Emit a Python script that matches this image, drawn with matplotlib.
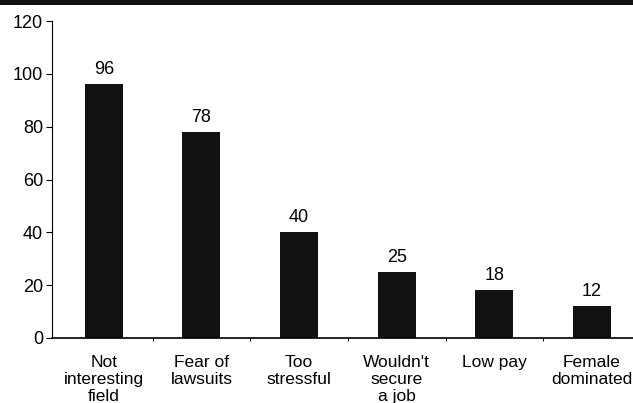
import matplotlib.pyplot as plt
from matplotlib.patches import Rectangle
import numpy as np

plt.rcParams['font.family'] = ['Liberation Sans', 'DejaVu Sans']

reasons = ["Not\ninteresting\nfield", "Fear of\nlawsuits", "Too\nstressful",
           "Wouldn't\nsecure\na job", "Low pay", "Female\ndominated"]
counts = [96, 78, 40, 25, 18, 12]
y_ticks = [0, 20, 40, 60, 80, 100, 120]

fig = plt.figure(figsize=(6.33, 4.03), dpi=100)
ax = fig.add_axes([52 / 633, 65 / 403, 1 - 52 / 633, 317 / 403])

# black rule across the top of the page
fig.patches.append(Rectangle((0, 1 - 5 / 403), 1, 5 / 403, transform=fig.transFigure,
                             facecolor='#111111', edgecolor='none'))

x = np.arange(len(counts))
bars = ax.bar(x, counts, width=0.39, color='#111111')

for xi, c in zip(x, counts):
    ax.annotate(str(c), (xi, c), xytext=(0, 4.5), textcoords='offset points',
                ha='center', va='bottom', fontsize=13)

ax.set_xlim(-0.53, 5.42)
ax.set_ylim(0, 120)
ax.set_yticks(y_ticks)
ax.tick_params(axis='y', direction='out', length=4, width=0.8, pad=2.5, labelsize=13)

ax.set_xticks(x)
ax.set_xticklabels(reasons, fontsize=12.5, linespacing=1.15)
ax.tick_params(axis='x', which='major', length=0, pad=12.5)
ax.set_xticks(x[:-1] + 0.5, minor=True)
ax.tick_params(axis='x', which='minor', direction='out', length=2, width=0.7)

for side in ['top', 'right']:
    ax.spines[side].set_visible(False)
ax.spines['left'].set_linewidth(0.8)
ax.spines['bottom'].set_linewidth(1.2)

fig.savefig('out.png', dpi=100)
